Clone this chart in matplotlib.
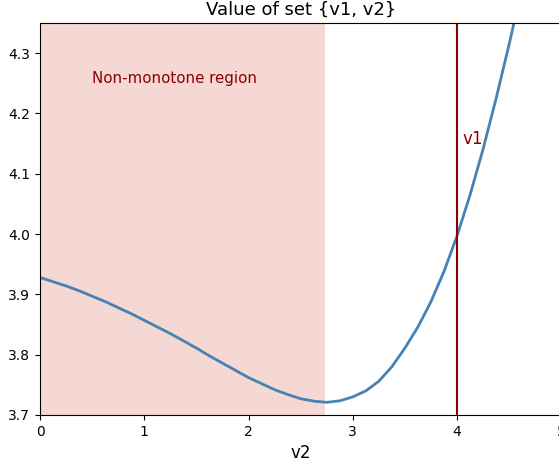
import matplotlib.pyplot as plt

# values
v2 = [0.0, 0.125, 0.25, 0.375, 0.5, 0.625, 0.75, 0.875, 1.0, 1.125, 1.25, 1.375,
      1.5, 1.625, 1.75, 1.875, 2.0, 2.125, 2.25, 2.375, 2.5, 2.625, 2.75, 2.875,
      3.0, 3.125, 3.25, 3.375, 3.5, 3.625, 3.75, 3.875, 4.0, 4.125, 4.25, 4.375,
      4.5, 4.625, 4.75]
value = [3.928, 3.921, 3.914, 3.906, 3.897, 3.888, 3.878, 3.868, 3.857, 3.846,
         3.835, 3.823, 3.811, 3.798, 3.786, 3.774, 3.762, 3.752, 3.742, 3.734,
         3.727, 3.723, 3.721, 3.7235, 3.730, 3.740, 3.756, 3.780, 3.811, 3.846,
         3.888, 3.938, 3.997, 4.065, 4.141, 4.225, 4.315, 4.410, 4.520]

v1 = 4.0
region_end = 2.73

fig = plt.figure(figsize=(5.59, 4.61), dpi=100)
ax = fig.add_axes([0.0716, 0.0998, 0.9325, 0.8503])

ax.axvspan(0, region_end, color='#F5D8D3', lw=0)
ax.plot(v2, value, color='steelblue', lw=2)
ax.axvline(v1, color='darkred', lw=1.5)

ax.text(0.5, 4.258, 'Non-monotone region', color='darkred', fontsize=10.8, va='center')
ax.text(4.05, 4.157, 'v1', color='darkred', fontsize=12, va='center')

ax.set_xlim(0, 5)
ax.set_ylim(3.7, 4.35)
ax.set_xticks([0, 1, 2, 3, 4, 5])
ax.set_yticks([3.7, 3.8, 3.9, 4.0, 4.1, 4.2, 4.3])
ax.set_title('Value of set {v1, v2}', fontsize=13)
ax.set_xlabel('v2', fontsize=12)

fig.savefig('out.png', dpi=100)
